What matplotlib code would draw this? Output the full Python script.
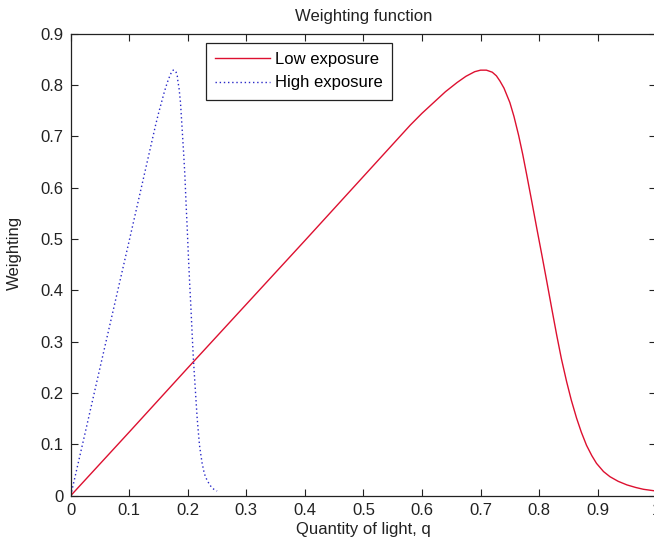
import numpy as np
import matplotlib
matplotlib.use("Agg")
from matplotlib import pyplot as plt
from matplotlib.ticker import FormatStrFormatter

# values
q_low = [0.0, 0.1, 0.2, 0.3, 0.4, 0.5, 0.58, 0.6, 0.62, 0.64, 0.66, 0.675, 0.69,
         0.70, 0.71, 0.72, 0.727, 0.733, 0.74, 0.75, 0.757, 0.765, 0.772, 0.779,
         0.788, 0.796, 0.805, 0.813, 0.822, 0.83, 0.838, 0.847, 0.855, 0.864, 0.872,
         0.881, 0.89, 0.898, 0.91, 0.921, 0.935, 0.95, 0.965, 0.978, 1.0]
w_low = [0.0, 0.124, 0.249, 0.373, 0.497, 0.622, 0.722, 0.745, 0.766, 0.787, 0.805,
         0.817, 0.826, 0.829, 0.829, 0.825, 0.818, 0.808, 0.794, 0.766, 0.739, 0.702,
         0.665, 0.624, 0.570, 0.521, 0.467, 0.418, 0.362, 0.313, 0.267, 0.222, 0.186,
         0.151, 0.124, 0.098, 0.078, 0.063, 0.047, 0.037, 0.028, 0.021, 0.016, 0.0125,
         0.009]

q_high = [0.0, 0.025, 0.05, 0.075, 0.1, 0.125, 0.145, 0.15, 0.155, 0.16, 0.165,
          0.169, 0.1725, 0.175, 0.1775, 0.18, 0.182, 0.183, 0.185, 0.1875, 0.189,
          0.191, 0.193, 0.195, 0.197, 0.199, 0.201, 0.203, 0.2055, 0.2075, 0.2095,
          0.212, 0.214, 0.216, 0.218, 0.22, 0.2225, 0.2245, 0.2275, 0.23, 0.234,
          0.2375, 0.241, 0.2445, 0.25]
w_high = [0.0, 0.124, 0.249, 0.373, 0.497, 0.622, 0.722, 0.745, 0.766, 0.787, 0.805,
          0.817, 0.826, 0.829, 0.829, 0.825, 0.818, 0.808, 0.794, 0.766, 0.739, 0.702,
          0.665, 0.624, 0.570, 0.521, 0.467, 0.418, 0.362, 0.313, 0.267, 0.222, 0.186,
          0.151, 0.124, 0.098, 0.078, 0.063, 0.047, 0.037, 0.028, 0.021, 0.016, 0.0125,
          0.009]

x_ticks = [0, 0.1, 0.2, 0.3, 0.4, 0.5, 0.6, 0.7, 0.8, 0.9, 1.0]
y_ticks = [0, 0.1, 0.2, 0.3, 0.4, 0.5, 0.6, 0.7, 0.8, 0.9]

plt.rcParams['font.family'] = ['Liberation Sans', 'DejaVu Sans']
plt.rcParams['font.size'] = 12

fig = plt.figure(figsize=(6.54, 5.49), dpi=100, facecolor='white')
ax = fig.add_axes([0.1081, 0.0971, 0.8953, 0.8415])

ax.plot(q_low, w_low, color='#dd1030', linewidth=1.0, label='Low exposure')
ax.plot(q_high, w_high, color='#2828c8', linestyle=(0, (1, 2)), linewidth=1.0,
        label='High exposure')

ax.set_xlim(0, 1)
ax.set_ylim(0, 0.9)
ax.set_xticks(x_ticks)
ax.set_yticks(y_ticks)
ax.xaxis.set_major_formatter(FormatStrFormatter('%g'))
ax.yaxis.set_major_formatter(FormatStrFormatter('%g'))
ax.tick_params(direction='in', length=5, width=0.8, top=True, right=True,
               pad=5, colors='#222222', labelcolor='#222222')
for s in ax.spines.values():
    s.set_linewidth(0.9)
    s.set_color('#222222')

ax.set_title('Weighting function', fontsize=12, pad=9, color='#222222')
ax.set_xlabel('Quantity of light, q', color='#222222', labelpad=3)
ax.set_ylabel('Weighting', color='#222222')
ax.yaxis.set_label_coords(-0.083, 0.525)

leg = ax.legend(loc='upper left', bbox_to_anchor=(0.231, 0.980), borderaxespad=0,
                handlelength=3.3, handletextpad=0.3, borderpad=0.55,
                labelspacing=0.5, fancybox=False, framealpha=1, edgecolor='#222222')
leg.get_frame().set_linewidth(0.9)

fig.savefig('out.png', dpi=100, facecolor='white')
